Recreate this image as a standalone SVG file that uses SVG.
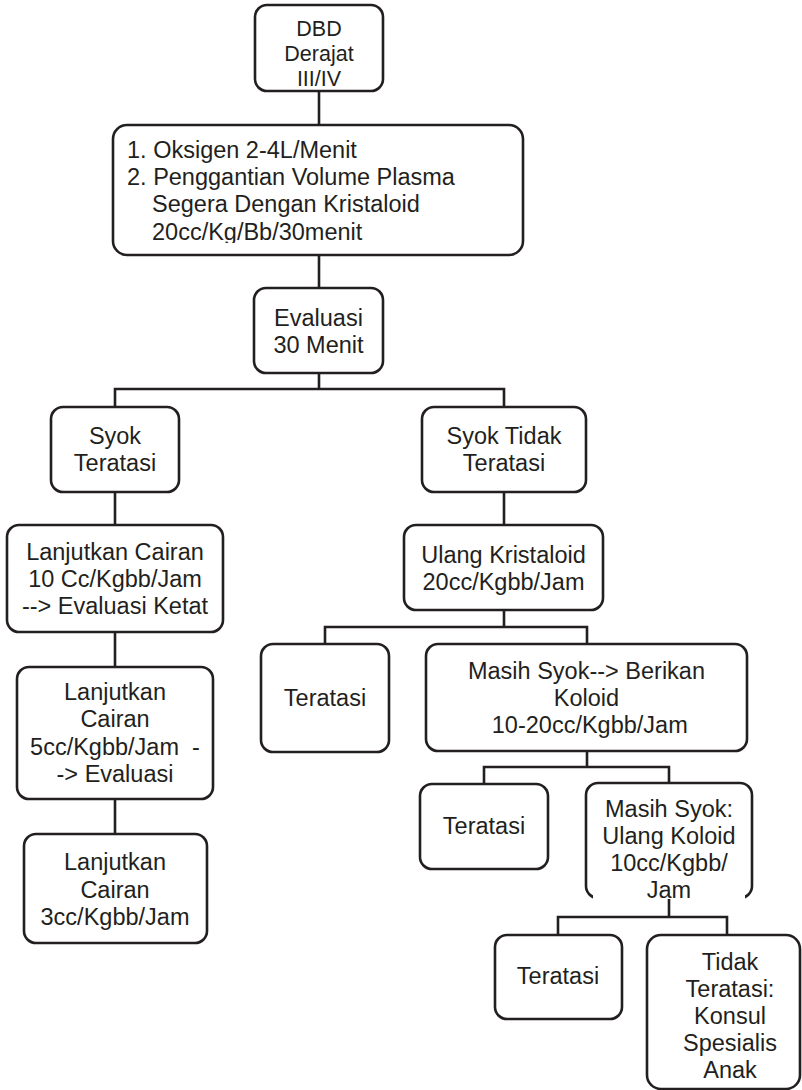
<svg xmlns="http://www.w3.org/2000/svg" width="802" height="1090" viewBox="0 0 802 1090">
  <style>
    .box { fill: #ffffff; stroke: #231f20; stroke-width: 2.6; }
    .t { font-family: "Liberation Sans", Arial, sans-serif; font-size: 23.5px; fill: #231f20; text-anchor: middle; }
    .tl { text-anchor: start; }
    .c { fill: none; stroke: #231f20; stroke-width: 2.6; }
  </style>
  <defs>
    <clipPath id="clipPlan">
      <rect x="113" y="125" width="410" height="118"/>
    </clipPath>
  </defs>
  <rect width="802" height="1090" fill="#ffffff"/>

  <!-- flowchart nodes -->
  <g id="dbd">
    <rect class="box" x="255" y="5" width="128" height="86" rx="12"/>
    <text class="t" style="font-size:21.5px" x="319" y="36">DBD</text>
    <text class="t" style="font-size:21.5px" x="319" y="61">Derajat</text>
    <text class="t" style="font-size:21.5px" x="319" y="86">III/IV</text>
  </g>

  <g id="tatalaksana-awal">
    <rect class="box" x="113" y="125" width="410" height="130" rx="14"/>
    <text class="t tl" x="127" y="158">1. Oksigen 2-4L/Menit</text>
    <text class="t tl" x="127" y="185">2. Penggantian Volume Plasma</text>
    <text class="t tl" x="152" y="212">Segera Dengan Kristaloid</text>
    <text class="t tl" x="152" y="240" clip-path="url(#clipPlan)">20cc/Kg/Bb/30menit</text>
  </g>

  <g id="evaluasi">
    <rect class="box" x="254" y="288" width="129" height="85" rx="12"/>
    <text class="t" x="318.5" y="326">Evaluasi</text>
    <text class="t" x="318.5" y="353">30 Menit</text>
  </g>

  <g id="syok-teratasi">
    <rect class="box" x="51" y="407" width="128" height="85" rx="12"/>
    <text class="t" x="115" y="444">Syok</text>
    <text class="t" x="115" y="471">Teratasi</text>
  </g>

  <g id="syok-tidak-teratasi">
    <rect class="box" x="422" y="407" width="164" height="85" rx="12"/>
    <text class="t" x="504" y="444">Syok Tidak</text>
    <text class="t" x="504" y="471">Teratasi</text>
  </g>

  <g id="lanjutkan-10">
    <rect class="box" x="7" y="525" width="216" height="107" rx="12"/>
    <text class="t" x="115" y="560">Lanjutkan Cairan</text>
    <text class="t" x="115" y="587">10 Cc/Kgbb/Jam</text>
    <text class="t" x="115" y="614">--&gt; Evaluasi Ketat</text>
  </g>

  <g id="lanjutkan-5">
    <rect class="box" x="17" y="667" width="196" height="132" rx="12"/>
    <text class="t" x="115" y="700">Lanjutkan</text>
    <text class="t" x="115" y="727">Cairan</text>
    <text class="t" x="115" y="755" xml:space="preserve">5cc/Kgbb/Jam  -</text>
    <text class="t" x="115" y="782">-&gt; Evaluasi</text>
  </g>

  <g id="lanjutkan-3">
    <rect class="box" x="24" y="834" width="183" height="109" rx="12"/>
    <text class="t" x="115" y="870">Lanjutkan</text>
    <text class="t" x="115" y="898">Cairan</text>
    <text class="t" x="115" y="925">3cc/Kgbb/Jam</text>
  </g>

  <g id="ulang-kristaloid">
    <rect class="box" x="404" y="525" width="199" height="85" rx="12"/>
    <text class="t" x="503.5" y="563">Ulang Kristaloid</text>
    <text class="t" x="503.5" y="590">20cc/Kgbb/Jam</text>
  </g>

  <g id="teratasi-1">
    <rect class="box" x="261" y="644" width="128" height="108" rx="12"/>
    <text class="t" x="325" y="706">Teratasi</text>
  </g>

  <g id="berikan-koloid">
    <rect class="box" x="426" y="644" width="321" height="107" rx="12"/>
    <text class="t" x="586.5" y="679">Masih Syok--&gt; Berikan</text>
    <text class="t" x="586.5" y="706">Koloid</text>
    <text class="t" x="586.5" y="733" xml:space="preserve"> 10-20cc/Kgbb/Jam</text>
  </g>

  <g id="teratasi-2">
    <rect class="box" x="420" y="784" width="128" height="85" rx="12"/>
    <text class="t" x="484" y="834">Teratasi</text>
  </g>

  <g id="ulang-koloid">
    <rect class="box" x="586" y="783" width="166" height="115" rx="12"/>
    <!-- bottom edge hidden behind the overflowing last line -->
    <rect x="593" y="893" width="152" height="9" fill="#ffffff"/>
    <text class="t" x="669" y="817">Masih Syok:</text>
    <text class="t" x="669" y="844">Ulang Koloid</text>
    <text class="t" x="669" y="871">10cc/Kgbb/</text>
    <text class="t" x="669" y="898">Jam</text>
  </g>

  <g id="teratasi-3">
    <rect class="box" x="495" y="935" width="127" height="84" rx="12"/>
    <text class="t" x="558" y="984">Teratasi</text>
  </g>

  <g id="konsul-spesialis">
    <rect class="box" x="647" y="935" width="153" height="154" rx="14"/>
    <text class="t" x="730" y="970">Tidak</text>
    <text class="t" x="730" y="997">Teratasi:</text>
    <text class="t" x="730" y="1024">Konsul</text>
    <text class="t" x="730" y="1051">Spesialis</text>
    <text class="t" x="730" y="1078">Anak</text>
  </g>

  <!-- connectors -->
  <g id="connectors" class="c">
    <path d="M319,91 V125"/>
    <path d="M319,255 V288"/>
    <path d="M319,373 V389 M115,407 V389 H504 V407"/>
    <path d="M115,492 V525"/>
    <path d="M115,632 V667"/>
    <path d="M115,799 V834"/>
    <path d="M504,492 V525"/>
    <path d="M504,610 V627 M325,644 V627 H587 V644"/>
    <path d="M587,751 V767 M484,784 V767 H669 V783"/>
    <path d="M669,899 V917 M558,935 V917 H727 V935"/>
  </g>
</svg>
